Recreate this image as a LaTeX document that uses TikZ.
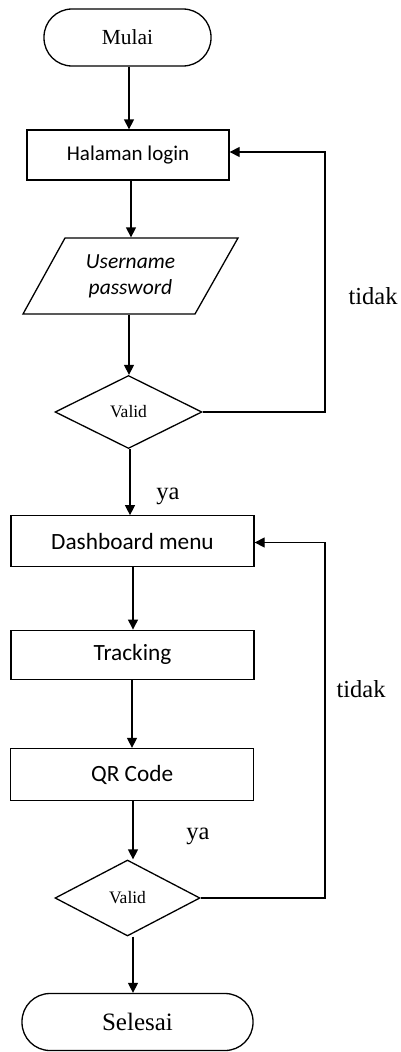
\documentclass[tikz,border=0pt]{standalone}
\usepackage{fontspec}
\setmainfont{Liberation Serif}
\newfontfamily\calib{Carlito}
\usetikzlibrary{shapes.geometric,arrows.meta}
\begin{document}
\begin{tikzpicture}[x=1pt,y=-1pt,
  line width=1.3pt,
  box/.style={draw, rectangle, inner sep=0pt, font=\calib\fontsize{23.3}{27}\selectfont},
  term/.style={draw, rectangle, rounded corners=28pt, inner sep=0pt},
  dec/.style={draw, diamond, inner sep=0pt, font=\fontsize{17.5}{20}\selectfont},
  arr/.style={-{Triangle[length=10pt,width=10pt]}},
  lbl/.style={font=\fontsize{24.5}{28}\selectfont, inner sep=0pt}]
\useasboundingbox (0,0) rectangle (401,1052);

\node[term, minimum width=167pt, minimum height=57pt, font=\fontsize{21.5}{25}\selectfont] (mulai) at (127.5,37.5) {Mulai};
\node[box, minimum width=202pt, minimum height=50pt, font=\calib\fontsize{21}{25}\selectfont] (login) at (128,155) {Halaman login};
\node[rectangle, inner sep=0pt, minimum width=173pt, minimum height=76pt, align=center,
      font=\calib\itshape\fontsize{21.5}{26}\selectfont] (inp) at (130.5,276) {Username\\password};
\draw (65,238) -- (238,238) -- (195,314) -- (23,314) -- cycle;
\node[dec, minimum width=147pt, minimum height=73pt] (v1) at (128.5,412) {Valid};

\node[box, minimum width=243pt, minimum height=51pt] (dash) at (132.5,541.3) {Dashboard menu};
\node[box, minimum width=243pt, minimum height=49pt] (track) at (132.5,654.7) {Tracking};
\node[box, minimum width=243pt, minimum height=52pt] (qr) at (132.2,774.5) {QR Code};
\node[dec, minimum width=145pt, minimum height=76pt] (v2) at (127.5,898) {Valid};
\node[term, minimum width=231pt, minimum height=57pt, font=\fontsize{25}{29}\selectfont] (selesai) at (137.5,1022) {Selesai};

\node[lbl] (ya1) at (168,496) {ya};
\node[lbl] (ya2) at (198,836) {ya};
\node[lbl] (tidak1) at (373,296) {tidak};
\node[lbl] (tidak2) at (361,689) {tidak};

\coordinate (r1) at (325,152);
\coordinate (r2) at (325,542.5);

\draw[arr] (mulai.south -| 129,0) -- (login.north -| 129,0);
\draw[arr] (login.south -| 131,0) -- (inp.north -| 131,0);
\draw[arr] (inp.south -| 129,0) -- (v1.north -| 129,0);
\draw[arr] (v1.south -| 130,0) -- (dash.north -| 130,0);
\draw[arr] (v1.east) -| (r1) -- (login.east |- r1);
\draw[arr] (dash.south -| 133,0) -- (track.north -| 133,0);
\draw[arr] (track.south -| 132,0) -- (qr.north -| 132,0);
\draw[arr] (qr.south -| 133,0) -- (v2.north -| 133,0);
\draw[arr] (v2.east) -| (r2) -- (dash.east |- r2);
\draw[arr] (v2.south -| 133,0) -- (selesai.north -| 133,0);
\end{tikzpicture}
\end{document}
